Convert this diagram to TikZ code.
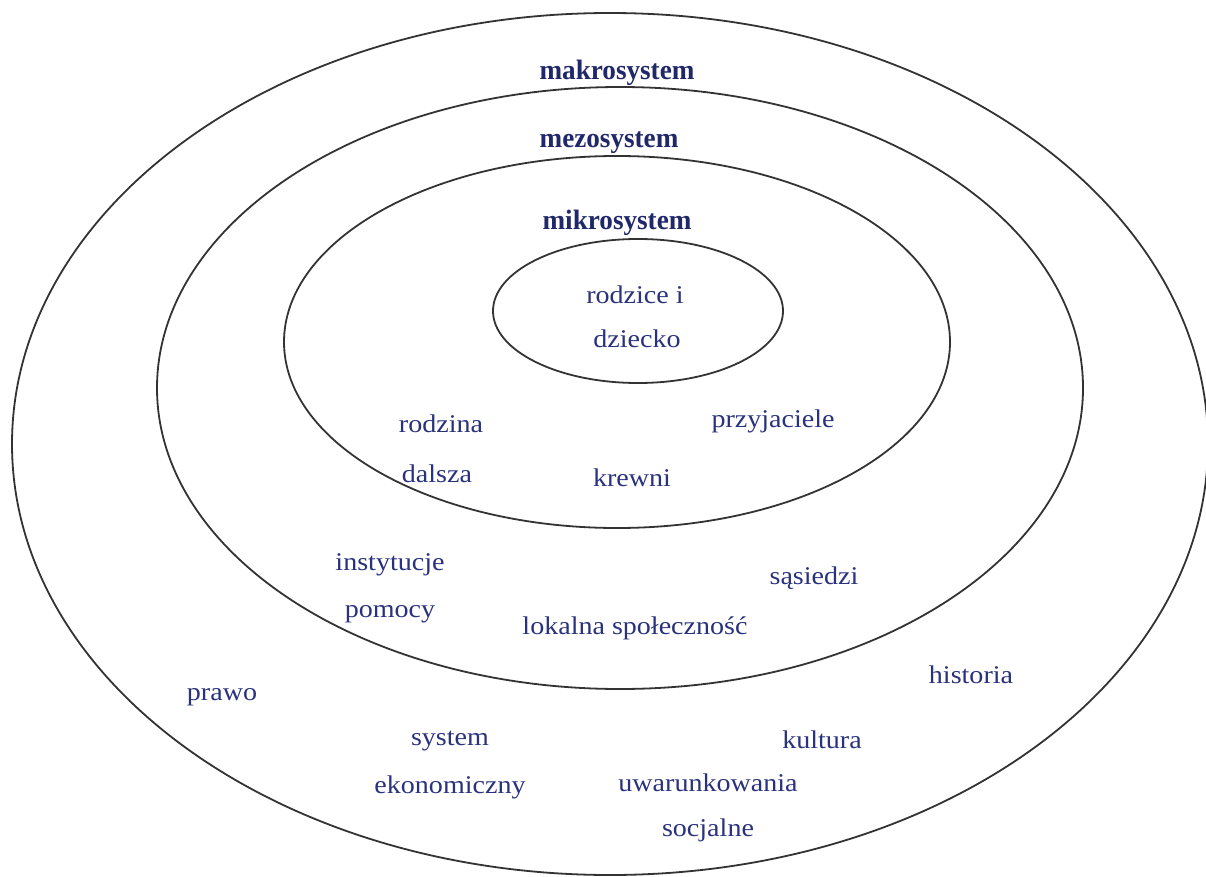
\documentclass[tikz,border=0pt]{standalone}
\usepackage{fontspec}
\setmainfont{Liberation Serif}
\newfontfamily\lblfont[FakeStretch=1.1]{Liberation Serif}
\newfontfamily\ttlfont[FakeStretch=0.97]{Liberation Serif}
\definecolor{navy}{RGB}{42,50,125}
\definecolor{navydark}{RGB}{33,40,105}
\begin{document}
\begin{tikzpicture}[x=1pt,y=-1pt,
  ring/.style={draw=black!80,line width=1.8pt},
  lbl/.style={text=navy,inner sep=0pt,font=\lblfont\fontsize{25.5}{30}\selectfont},
  ttl/.style={text=navydark,inner sep=0pt,font=\ttlfont\bfseries\fontsize{28}{33}\selectfont}]
\useasboundingbox (0,0) rectangle (1206,877);
\fill[white] (0,0) rectangle (1206,877);

% nested system rings
\draw[ring] (610,444) ellipse [x radius=598, y radius=431];
\draw[ring] (620,388) ellipse [x radius=463, y radius=301];
\draw[ring] (617,342) ellipse [x radius=333, y radius=186];
\draw[ring] (638,311) ellipse [x radius=145, y radius=72];

% ring titles
\node[ttl] (makro) at (617,73) {makrosystem};
\node[ttl] (mezo)  at (609,143) {mezosystem};
\node[ttl] (mikro) at (617,223) {mikrosystem};

% core
\node[lbl] (rodz1) at (635,295) {rodzice i};
\node[lbl] (rodz2) at (637,339) {dziecko};

% mikrosystem
\node[lbl] (rd1) at (441,424) {rodzina};
\node[lbl] (rd2) at (437,474) {dalsza};
\node[lbl] (krew) at (632,478) {krewni};
\node[lbl] (przy) at (773,421) {przyjaciele};

% mezosystem
\node[lbl] (inst1) at (390,565) {instytucje};
\node[lbl] (inst2) at (390,614) {pomocy};
\node[lbl] (sas) at (814,578) {sąsiedzi};
\node[lbl] (lok) at (635,628) {lokalna społeczność};

% makrosystem
\node[lbl] (hist) at (971,675) {historia};
\node[lbl] (praw) at (222,697) {prawo};
\node[lbl] (sys1) at (450,741) {system};
\node[lbl] (sys2) at (450,787) {ekonomiczny};
\node[lbl] (kult) at (822,740) {kultura};
\node[lbl] (uw1) at (708,783) {uwarunkowania};
\node[lbl] (uw2) at (708,830) {socjalne};
\end{tikzpicture}
\end{document}
